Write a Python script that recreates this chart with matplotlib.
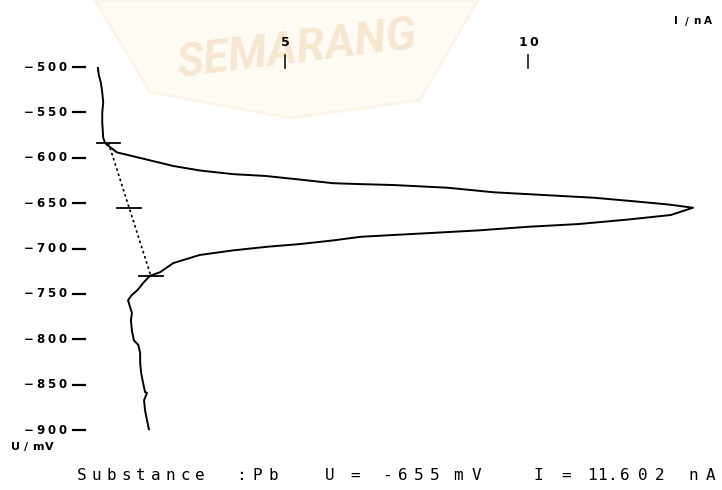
import numpy as np
import matplotlib.pyplot as plt
from matplotlib.patches import Polygon

W, H = 722, 490

# forward sweep, U in mV and I in nA, from -500 mV down towards the peak
fwd_u = [-501, -509, -517, -528, -539, -550, -561, -578, -584, -594, -602,
         -609, -614, -618, -620, -624, -628, -629, -630, -633, -638, -641,
         -644, -648, -651.5]
fwd_i = [1.15, 1.17, 1.21, 1.24, 1.26, 1.24, 1.24, 1.26, 1.30, 1.54, 2.16,
         2.70, 3.25, 3.93, 4.60, 5.31, 5.99, 6.56, 7.24, 8.35, 9.30, 10.33,
         11.36, 12.20, 12.90]

# return branch from the peak down to -900 mV
ret_u = [-663, -668, -673, -676, -680, -683, -685, -687, -691, -695, -698,
         -702, -707, -716, -726, -730, -738, -746, -751, -757, -764, -771,
         -779, -790, -801, -806, -815, -826, -837, -848, -858, -859, -867,
         -878, -889, -899]
ret_i = [12.94, 12.06, 11.03, 10.00, 8.97, 7.94, 7.24, 6.56, 5.99, 5.31, 4.63,
         3.93, 3.25, 2.70, 2.43, 2.22, 2.08, 1.96, 1.85, 1.77, 1.81, 1.85,
         1.83, 1.85, 1.89, 1.98, 2.02, 2.02, 2.04, 2.08, 2.12, 2.16, 2.10,
         2.12, 2.16, 2.20]

# peak base line (end points) and evaluated peak
base_u = [-584, -730]
base_i = [1.37, 2.24]
peak_u = -655
peak_i = 11.602
substance = "Pb"

u_ticks = [-500, -550, -600, -650, -700, -750, -800, -850, -900]
i_ticks = [5, 10]


def baseline(u):
    return np.interp(u, base_u[::-1], base_i[::-1])


tip_i = baseline(peak_u) + peak_i
curve_u = np.r_[fwd_u, peak_u, ret_u]
curve_i = np.r_[fwd_i, tip_i, ret_i]

fig = plt.figure(figsize=(W / 100, H / 100), dpi=100)
fig.patch.set_facecolor("white")
ax = fig.add_axes([0, 0, 1, 1])
ax.set_xlim(-0.864, 13.992)
ax.set_ylim(-965.9, -426.2)
ax.axis("off")
ax.set_zorder(2)


def fx(px):
    return px / W


def fy(py):
    return 1 - py / H


# faint library stamp in the background
stamp = Polygon([(fx(95), fy(0)), (fx(150), fy(92)), (fx(290), fy(118)),
                 (fx(420), fy(100)), (fx(478), fy(0))],
                closed=True, transform=fig.transFigure, facecolor="#fefbf5",
                edgecolor="#fbf3e6", lw=2, zorder=0)
fig.patches.append(stamp)
fig.text(fx(297), fy(50), "SEMARANG", fontsize=33, fontweight="bold",
         fontstyle="italic", family=["Roboto", "DejaVu Sans"],
         color="#f5e7d0", rotation=7, ha="center", va="center", zorder=1)


def spaced(x0, y, s, pitch, xycoords, center=False, **kw):
    # plotter-style lettering: one glyph per fixed cell
    shift = -(len(s) - 1) * pitch / 2 if center else 0
    for k, ch in enumerate(s):
        if ch == " ":
            continue
        ax.annotate(ch, xy=(x0, y), xycoords=xycoords,
                    xytext=(shift + k * pitch, 0), textcoords="offset pixels",
                    ha="center", va="center", annotation_clip=False, **kw)


small = dict(family="DejaVu Sans", fontweight="bold", fontsize=8.5, color="black")
blend_y = ("axes fraction", "data")

# voltage axis: labels and short dashes
for u in u_ticks:
    spaced(fx(29), u, f"{u:d}".replace("-", "\u2212"), 11.3, blend_y, **small)
    ax.plot([fx(73), fx(85)], [u, u], color="black", lw=1.6,
            transform=ax.get_yaxis_transform())

# current axis: ticks along the top
for i in i_ticks:
    ax.plot([i, i], [fy(55), fy(68)], color="black", lw=1.1,
            transform=ax.get_xaxis_transform())
    spaced(i, fy(42.5), str(i), 11.0, ("data", "axes fraction"), center=True,
           **{**small, "fontsize": 9})

spaced(fx(676), fy(21.5), "I/nA", 10.5, "axes fraction", **{**small, "fontsize": 7.5})
spaced(fx(15), fy(447), "U/mV", 11.3, "axes fraction", **{**small, "fontsize": 8})

# scan and base line
ax.plot(curve_i, curve_u, color="black", lw=1.4, zorder=3)
ax.plot(base_i, base_u, color="black", lw=1.3, linestyle=(0, (0.6, 2.4)),
        dash_capstyle="round", zorder=3)
for u in (base_u[0], peak_u, base_u[1]):
    b = baseline(u)
    ax.plot([b - 0.24, b + 0.24], [u, u], color="black", lw=1.3, zorder=3)

# result line under the plot
mono = dict(family="DejaVu Sans Mono", fontsize=11.5, color="black")
int_part, frac_part = f"{peak_i:.3f}".split(".")
segments = [
    ("Substance", 82, 14.75), (":", 241, 0), (substance, 257, 16),
    ("U", 330, 0), ("=", 355, 0), (f"{peak_u:d}", 387, 16), ("mV", 458, 18),
    ("I", 538, 0), ("=", 566, 0), (int_part, 592, 10), (".", 611.5, 0),
    (frac_part, 625, 17.5), ("nA", 693, 18),
]
for text, x0, pitch in segments:
    spaced(fx(x0), fy(475), text, pitch, "axes fraction", **mono)

fig.savefig("out.png", dpi=100, facecolor="white")
